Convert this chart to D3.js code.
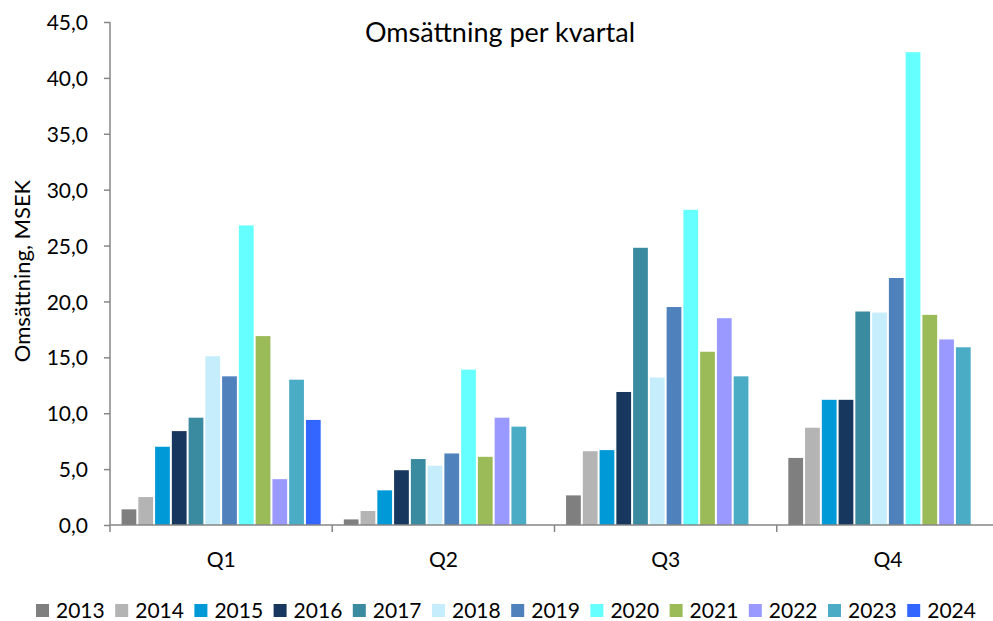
<!DOCTYPE html>
<html lang="sv">
<head>
    <meta charset="UTF-8">
    <title>Omsättning per kvartal</title>
    <style>
        body { margin: 0; background: #fff; }
        text { font-family: Lato, "Open Sans", sans-serif; fill: #000; }
    </style>
</head>
<body>
    <script src="https://d3js.org/d3.v7.min.js"></script>
    <script>
        const width = 993,
            height = 621;

        // data (MSEK)
        const quarters = ['Q1', 'Q2', 'Q3', 'Q4'];
        const years = ['2013', '2014', '2015', '2016', '2017', '2018', '2019', '2020', '2021', '2022', '2023', '2024'];
        const colors = ['#7f7f7f', '#b4b4b4', '#0099d8', '#17375e', '#3a8aa0', '#c6edfc', '#4f81bd', '#66ffff', '#9bbb59', '#9999ff', '#4bacc6', '#3366ff'];
        const q1 = [1.4, 2.5, 7.0, 8.4, 9.6, 15.1, 13.3, 26.8, 16.9, 4.1, 13.0, 9.4];
        const q2 = [0.5, 1.25, 3.1, 4.9, 5.9, 5.3, 6.4, 13.9, 6.1, 9.6, 8.8, null];
        const q3 = [2.65, 6.6, 6.7, 11.9, 24.8, 13.2, 19.5, 28.2, 15.5, 18.5, 13.3, null];
        const q4 = [6.0, 8.7, 11.2, 11.2, 19.1, 19.0, 22.1, 42.3, 18.8, 16.6, 15.9, null];
        const yTicks = [0, 5, 10, 15, 20, 25, 30, 35, 40, 45];

        const series = [q1, q2, q3, q4];
        const axisColor = '#868686';

        const margin = { top: 22, right: -6, bottom: 96, left: 110 };

        const svg = d3.select('body').append('svg')
            .attr('width', width).attr('height', height);

        const x0 = d3.scaleBand()
            .domain(quarters)
            .range([margin.left, width - margin.right]);

        const x1 = d3.scaleBand()
            .domain(years)
            .range([0, x0.bandwidth()])
            .paddingInner(0.12)
            .paddingOuter(0.69);

        const y = d3.scaleLinear()
            .domain([0, 45])
            .range([height - margin.bottom, margin.top]);

        // bars
        const groups = svg.append('g')
            .selectAll('g')
            .data(quarters)
            .join('g')
            .attr('transform', d => `translate(${x0(d)},0)`);

        groups.selectAll('rect')
            .data((q, qi) => years.map((yr, i) => ({ year: yr, i: i, value: series[qi][i] }))
                .filter(d => d.value != null))
            .join('rect')
            .attr('x', d => x1(d.year))
            .attr('width', x1.bandwidth())
            .attr('y', d => y(d.value))
            .attr('height', d => y(0) - y(d.value))
            .attr('fill', d => colors[d.i]);

        // y axis
        const yAxis = svg.append('g')
            .attr('transform', `translate(${margin.left},0)`)
            .call(d3.axisLeft(y)
                .tickValues(yTicks)
                .tickSize(6)
                .tickPadding(16)
                .tickFormat(d => d3.format('.1f')(d).replace('.', ',')));
        yAxis.select('.domain').attr('stroke', axisColor).attr('stroke-width', 1.5)
            .attr('d', `M0,${y(45)}V${y(0)}`);
        yAxis.selectAll('.tick line').attr('stroke', axisColor).attr('stroke-width', 1.5);
        yAxis.selectAll('.tick text').style('font-size', '21px').attr('dy', '0.36em');

        // x axis
        const xAxis = svg.append('g')
            .attr('transform', `translate(0,${y(0)})`);
        xAxis.append('line')
            .attr('x1', margin.left).attr('x2', width + 10)
            .attr('stroke', axisColor).attr('stroke-width', 1.5);
        xAxis.selectAll('line.tick')
            .data(quarters.map(q => x0(q)).concat([x0('Q4') + x0.bandwidth()]))
            .join('line')
            .attr('class', 'tick')
            .attr('x1', d => d).attr('x2', d => d)
            .attr('y1', 0).attr('y2', 7)
            .attr('stroke', axisColor).attr('stroke-width', 1.5);
        xAxis.selectAll('text')
            .data(quarters)
            .join('text')
            .attr('x', d => x0(d) + x0.bandwidth() / 2)
            .attr('y', 42)
            .attr('text-anchor', 'middle')
            .style('font-size', '21px')
            .text(d => d);

        // titles
        svg.append('text')
            .attr('x', 500).attr('y', 42)
            .attr('text-anchor', 'middle')
            .style('font-size', '27px')
            .text('Omsättning per kvartal');

        svg.append('text')
            .attr('transform', 'translate(30,271) rotate(-90)')
            .attr('text-anchor', 'middle')
            .style('font-size', '22px')
            .text('Omsättning, MSEK');

        // legend
        const legend = svg.append('g')
            .attr('transform', 'translate(36,604)')
            .selectAll('g')
            .data(years)
            .join('g')
            .attr('transform', (d, i) => `translate(${i * 79.2},0)`);
        legend.append('rect')
            .attr('width', 13).attr('height', 13)
            .attr('fill', (d, i) => colors[i]);
        legend.append('text')
            .attr('x', 20).attr('y', 14)
            .style('font-size', '21px')
            .text(d => d);
    </script>
</body>
</html>
